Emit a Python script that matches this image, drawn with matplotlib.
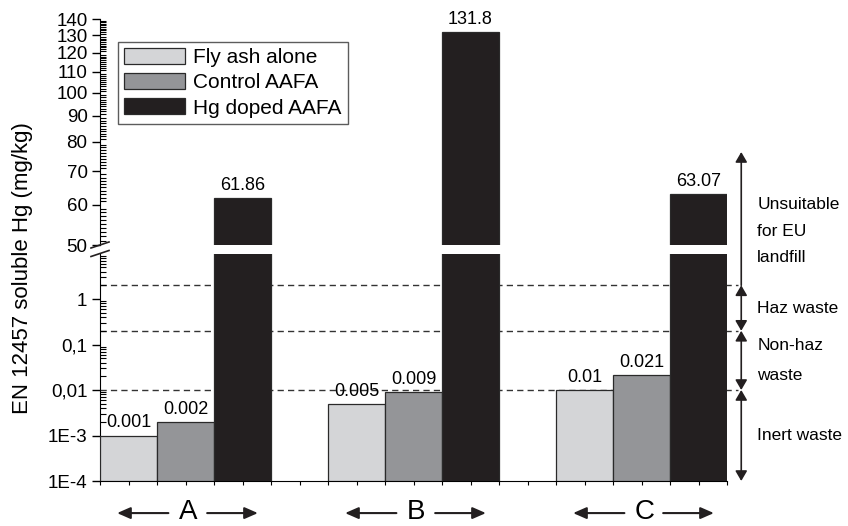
import numpy as np
import matplotlib
matplotlib.use('Agg')
import matplotlib.pyplot as plt
from matplotlib.ticker import FixedLocator, NullFormatter, FixedFormatter

plt.rcParams['font.family'] = ['Liberation Sans', 'DejaVu Sans']

# data
groups = ['A', 'B', 'C']
series = ['Fly ash alone', 'Control AAFA', 'Hg doped AAFA']
fly_ash = [0.001, 0.005, 0.01]
control = [0.002, 0.009, 0.021]
hg_doped = [61.86, 131.8, 63.07]

# EU landfill limits (mg/kg) and class names
limits = [0.01, 0.2, 2]
classes = ['Inert waste', 'Non-haz\nwaste', 'Haz waste', 'Unsuitable\nfor EU\nlandfill']

lo_ticks = [1e-4, 1e-3, 0.01, 0.1, 1]
lo_labels = ['1E-4', '1E-3', '0,01', '0,1', '1']
hi_ticks = [50, 60, 70, 80, 90, 100, 110, 120, 130, 140]

colors = ['#d4d5d7', '#949598', '#231f20']
edge = '#2a2a2a'

W, H = 848, 526
fig = plt.figure(figsize=(W / 100, H / 100), dpi=100)
ax_lo = fig.add_axes([100 / W, 1 - 481 / H, 627 / W, 227.5 / H])
ax_hi = fig.add_axes([100 / W, 1 - 245 / H, 627 / W, 226 / H])
for ax in (ax_lo, ax_hi):
    ax.patch.set_visible(False)
    ax.spines['top'].set_visible(False)
    ax.spines['right'].set_visible(False)
    ax.set_xlim(0, 11)
ax_hi.spines['bottom'].set_visible(False)

base = 1e-4
all_series = [fly_ash, control, hg_doped]
for s, vals in enumerate(all_series):
    x = np.arange(len(groups)) * 4 + s + 0.5
    for ax in (ax_lo, ax_hi):
        ax.bar(x, np.array(vals) - base, bottom=base, width=1.0,
               color=colors[s], edgecolor=edge, linewidth=0.9, zorder=3,
               label=series[s])
    for xi, v in zip(x, vals):
        ax = ax_lo if v < 10 else ax_hi
        ax.annotate(f'{v:g}', (xi, v), xytext=(0, 3), textcoords='offset points',
                    ha='center', va='bottom', fontsize=13, zorder=4)

# lower (log) axis
ax_lo.set_yscale('log')
ax_lo.set_ylim(1e-4, 10)
ax_lo.yaxis.set_major_locator(FixedLocator(lo_ticks))
ax_lo.yaxis.set_major_formatter(FixedFormatter(lo_labels))
ax_lo.yaxis.set_minor_locator(FixedLocator(
    [m * 10.0 ** e for e in range(-4, 1) for m in range(2, 10)]))
ax_lo.yaxis.set_minor_formatter(NullFormatter())

# upper axis
ax_hi.set_yscale('log')
ax_hi.set_ylim(50, 140)
ax_hi.yaxis.set_major_locator(FixedLocator(hi_ticks))
ax_hi.yaxis.set_major_formatter(FixedFormatter([str(t) for t in hi_ticks]))
ax_hi.yaxis.set_minor_locator(FixedLocator([t for t in range(50, 141) if t % 10]))
ax_hi.yaxis.set_minor_formatter(NullFormatter())
ax_hi.set_xticks([])

for ax in (ax_lo, ax_hi):
    ax.tick_params(axis='y', which='major', direction='out', length=6, width=1,
                   labelsize=13.5, pad=3)
    ax.tick_params(axis='y', which='minor', direction='in', length=4, width=0.8)
ax_lo.set_xticks([])
ax_lo.set_xticks(np.arange(0, 11.01, 0.5), minor=True)
ax_lo.tick_params(axis='x', which='minor', direction='out', length=3, width=0.8)

# threshold lines
for lim in limits:
    ax_lo.plot([0, 11.2], [lim, lim], color='#333333', lw=1,
               linestyle=(0, (4.5, 3)), zorder=1, clip_on=False)

# class arrows on the right
xa = 11.25
bounds = [1e-4] + limits
for i in range(len(limits)):
    ax_lo.annotate('', xy=(xa, bounds[i]), xytext=(xa, bounds[i + 1]),
                   arrowprops=dict(arrowstyle='<|-|>,head_length=0.6,head_width=0.35',
                                   color='#231f20', lw=1.2, shrinkA=0, shrinkB=0),
                   annotation_clip=False)
ax_lo.annotate('', xy=(xa, 1700), xytext=(xa, limits[-1]),
               arrowprops=dict(arrowstyle='-|>,head_length=0.6,head_width=0.35',
                               color='#231f20', lw=1.2, shrinkA=0, shrinkB=0),
               annotation_clip=False)
label_y = [1e-3, np.sqrt(limits[0] * limits[1]), np.sqrt(limits[1] * limits[2]), 31]
spacing = [1.9, 2.3, 1.9, 1.95]
for txt, yy, ls in zip(classes, label_y, spacing):
    ax_lo.text(11.53, yy, txt, ha='left', va='center', fontsize=12.5,
               linespacing=ls, clip_on=False)

# group labels with arrows under the axis
tr = ax_lo.get_xaxis_transform()
for g, name in enumerate(groups):
    c = g * 4 + 1.5
    ax_lo.text(c + 0.05, -0.167, name, transform=tr, ha='center', va='baseline',
               fontsize=20)
    for a, b in [(c - 0.3, c - 1.2), (c + 0.38, c + 1.27)]:
        ax_lo.annotate('', xy=(b, -0.141), xytext=(a, -0.141), xycoords=tr, textcoords=tr,
                       arrowprops=dict(arrowstyle='-|>,head_length=0.8,head_width=0.35',
                                       color='#231f20', lw=1.5, shrinkA=0, shrinkB=0),
                       annotation_clip=False)

# axis break marks
dx = 9 / 627
for ax, h in ((ax_lo, 227.5), (ax_hi, 226)):
    y0 = 1 if ax is ax_lo else 0
    dy = 3 / h
    ax.plot([-dx, dx], [y0 - dy, y0 + dy], transform=ax.transAxes, color='#231f20',
            lw=1.2, clip_on=False, zorder=5)

fig.text(23 / W, 1 - 268 / H, 'EN 12457 soluble Hg (mg/kg)', rotation=90,
         ha='center', va='center', fontsize=16)

ax_hi.legend(loc='upper left', bbox_to_anchor=(18 / 627, (245 - 42) / 226),
             borderaxespad=0, fontsize=15, frameon=True, fancybox=False,
             edgecolor='#333333', handlelength=2.9, handleheight=0.8,
             labelspacing=0.28, handletextpad=0.4, borderpad=0.3)

fig.savefig('out.png', dpi=100)
